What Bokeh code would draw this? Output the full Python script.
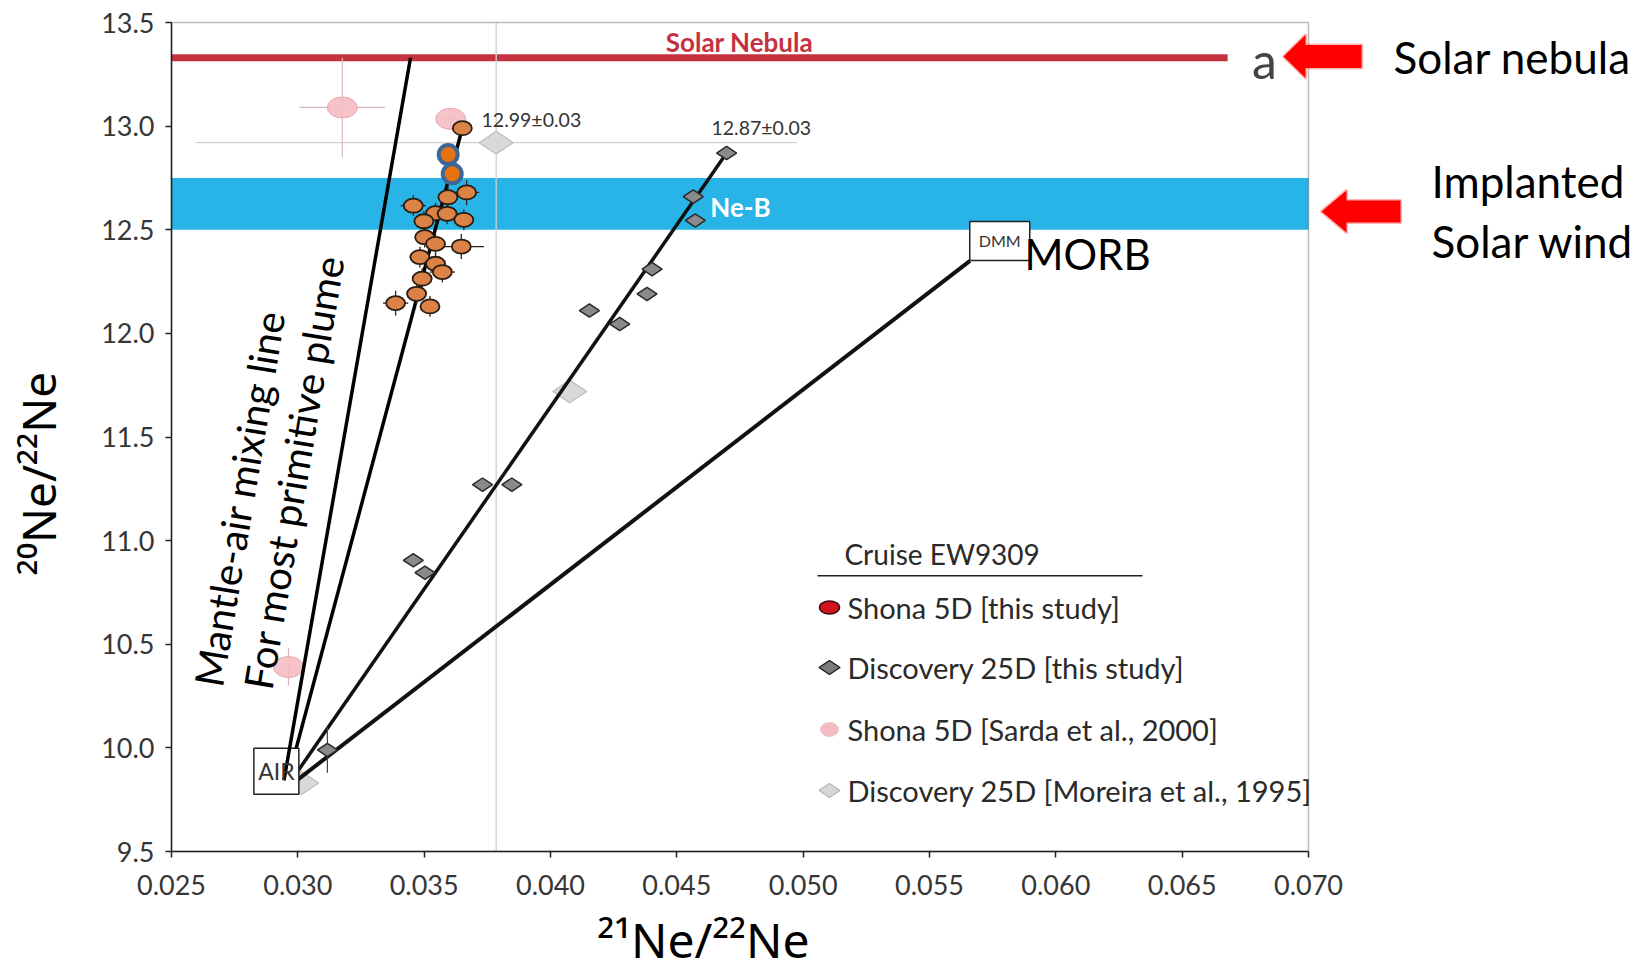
import math

from bokeh.plotting import figure
from bokeh.models import (Label, PolyAnnotation, BoxAnnotation, FixedTicker,
                          NumeralTickFormatter, Range1d)
from bokeh.embed import file_html
from bokeh.resources import INLINE

# ---------------------------------------------------------------- data
x_ticks = [0.025, 0.030, 0.035, 0.040, 0.045, 0.050, 0.055, 0.060, 0.065, 0.070]
y_ticks = [9.5, 10.0, 10.5, 11.0, 11.5, 12.0, 12.5, 13.0, 13.5]

# Shona 5D, this study (21Ne/22Ne, 20Ne/22Ne)
shona_x = [0.03651, 0.03594, 0.03668, 0.03457, 0.03545, 0.03591, 0.03499, 0.03657, 0.03502,
           0.03545, 0.03647, 0.03483, 0.03545, 0.03572, 0.03492, 0.03470, 0.03387, 0.03523]
shona_y = [12.99, 12.657, 12.68, 12.616, 12.58, 12.577, 12.541, 12.548, 12.464,
           12.432, 12.419, 12.368, 12.336, 12.296, 12.264, 12.191, 12.146, 12.130]
shona_xerr = [0.0002, 0.0004, 0.0005, 0.0005, 0.0004, 0.0004, 0.0004, 0.0004, 0.0004,
              0.0004, 0.0009, 0.0004, 0.0004, 0.0005, 0.0004, 0.0004, 0.0005, 0.0004]
shona_yerr = [0.02, 0.05, 0.06, 0.05, 0.05, 0.05, 0.05, 0.05, 0.05,
              0.05, 0.06, 0.05, 0.05, 0.05, 0.05, 0.05, 0.06, 0.05]

# two highlighted Shona samples
hl_x = [0.03595, 0.03611]
hl_y = [12.863, 12.770]

# Discovery 25D, this study
disc_x = [0.04697, 0.04565, 0.04573, 0.04402, 0.04382, 0.04154, 0.04274,
          0.03731, 0.03847, 0.03457, 0.03503, 0.03117]
disc_y = [12.87, 12.66, 12.545, 12.31, 12.19, 12.11, 12.045,
          11.27, 11.27, 10.905, 10.845, 9.99]
disc_xerr = [0, 0, 0, 0, 0, 0, 0, 0, 0, 0, 0, 0.0003]
disc_yerr = [0, 0, 0, 0, 0, 0, 0, 0, 0, 0, 0, 0.11]

# Shona 5D [Sarda et al., 2000]
sarda_x = [0.03176, 0.03605, 0.02963]
sarda_y = [13.09, 13.035, 10.39]
sarda_xerr = [0.0017, 0.0004, 0.0003]
sarda_yerr = [0.24, 0.05, 0.09]

# Discovery 25D [Moreira et al., 1995]
moreira_x = [0.03785, 0.04076, 0.03015]
moreira_y = [12.92, 11.72, 9.83]
moreira_xerr = [0.0119, 0.0, 0.0]
moreira_yerr = [3.6, 0.0, 0.0]

# reference compositions
air = (0.0295, 9.80)
air_box = (0.02915, 9.887)
dmm_box = (0.05778, 12.446)
morb_end = (0.0566, 12.35)
solar_nebula = 13.33
nebula_x = [0.025, 0.0668]
neb_band = (12.5, 12.75)
mantle_air_x = [0.02945, 0.03446]
mantle_air_y = [9.843, solar_nebula]

# ---------------------------------------------------------------- canvas geometry
W, H = 1643, 972
PLOT_L, PLOT_R, PLOT_T, PLOT_B = 171, 1308, 22, 851
X0, X1 = x_ticks[0], x_ticks[-1]
Y0, Y1 = y_ticks[0], y_ticks[-1]
kx = (PLOT_R - PLOT_L) / (X1 - X0)
ky = (PLOT_B - PLOT_T) / (Y1 - Y0)

# the frame fills the whole canvas so that the side notes can be drawn;
# the axes sit at fixed locations around the data box
FONT = "Lato"
p = figure(width=W, height=H,
           x_range=Range1d(X0 - PLOT_L / kx, X1 + (W - PLOT_R) / kx),
           y_range=Range1d(Y0 - (H - PLOT_B) / ky, Y1 + PLOT_T / ky),
           output_backend="svg", toolbar_location=None,
           min_border_left=0, min_border_right=0, min_border_top=0, min_border_bottom=0)
p.extra_x_ranges = {"px": Range1d(0, W)}
p.extra_y_ranges = {"px": Range1d(H, 0)}
p.grid.visible = False
p.background_fill_color = "white"
p.border_fill_color = "white"
p.outline_line_color = None

p.xaxis.fixed_location = Y0
p.yaxis.fixed_location = X0
p.xaxis.bounds = (X0, X1)
p.yaxis.bounds = (Y0, Y1)
p.xaxis.ticker = FixedTicker(ticks=x_ticks)
p.xaxis.formatter = NumeralTickFormatter(format="0.000")
p.yaxis.ticker = FixedTicker(ticks=y_ticks)
p.yaxis.formatter = NumeralTickFormatter(format="0.0")
for ax in (p.xaxis, p.yaxis):
    ax.axis_line_color = "#222222"
    ax.axis_line_width = 1.5
    ax.major_tick_line_color = "#222222"
    ax.major_tick_line_width = 1.5
    ax.major_tick_out = 6
    ax.major_tick_in = 0
    ax.minor_tick_line_color = None
    ax.major_label_text_font = FONT
    ax.major_label_text_font_size = "27px"
    ax.major_label_text_color = "#363636"
p.xaxis.major_label_standoff = 17
p.yaxis.major_label_standoff = 11

# Ne-B band (implanted solar wind)
p.add_layout(BoxAnnotation(left=X0, right=X1, bottom=neb_band[0], top=neb_band[1],
                           fill_color="#29b4e8", fill_alpha=1.0, line_color=None,
                           level="underlay"))

# Solar nebula line
p.segment(x0=[nebula_x[0]], y0=[solar_nebula], x1=[nebula_x[1]], y1=[solar_nebula],
          line_color="#c4323f", line_width=7)


def error_bars(xs, ys, xe, ye, color, width):
    hx0 = [max(x - e, X0) for x, e in zip(xs, xe)]
    hx1 = [min(x + e, X1) for x, e in zip(xs, xe)]
    vy0 = [max(y - e, Y0) for y, e in zip(ys, ye)]
    vy1 = [min(y + e, Y1) for y, e in zip(ys, ye)]
    p.segment(x0=hx0, y0=ys, x1=hx1, y1=ys, line_color=color, line_width=width)
    p.segment(x0=xs, y0=vy0, x1=xs, y1=vy1, line_color=color, line_width=width)


# literature data (pale)
error_bars(moreira_x, moreira_y, moreira_xerr, moreira_yerr, "#cfcfcf", 1.3)
error_bars(sarda_x, sarda_y, sarda_xerr, sarda_yerr, "#d9b8bc", 1.2)
p.ellipse(x=sarda_x, y=sarda_y, width=30, height=21, width_units="screen", height_units="screen",
          fill_color="#f4bcc3", fill_alpha=0.9, line_color="#eaa7b0", line_width=1)
p.scatter(x=moreira_x, y=moreira_y, marker="diamond", angle=math.pi / 2, size=34,
          fill_color="#d9d9d9", line_color="#bdbdbd", line_width=1.2)

# mixing lines from air
p.segment(x0=[air[0]], y0=[air[1]], x1=[shona_x[0]], y1=[shona_y[0]],
          line_color="black", line_width=3.5)
p.segment(x0=[air[0]], y0=[air[1]], x1=[disc_x[0]], y1=[disc_y[0]],
          line_color="#111111", line_width=3.5)
p.segment(x0=[air[0]], y0=[air[1]], x1=[morb_end[0]], y1=[morb_end[1]],
          line_color="#111111", line_width=4)

# this study
error_bars(disc_x, disc_y, disc_xerr, disc_yerr, "#444444", 1.2)
p.scatter(x=disc_x, y=disc_y, marker="diamond", angle=math.pi / 2, size=20,
          fill_color="#8a8a8a", line_color="#2a2a2a", line_width=1.5)
error_bars(shona_x, shona_y, shona_xerr, shona_yerr, "#33241a", 1.3)
p.ellipse(x=shona_x, y=shona_y, width=19, height=14, width_units="screen", height_units="screen",
          fill_color="#db8247", line_color="#2a1d14", line_width=1.8)
p.scatter(x=hl_x, y=hl_y, marker="circle", size=19,
          fill_color="#e8720f", line_color="#3e6696", line_width=4)

# end-member boxes
p.rect(x=[air_box[0]], y=[air_box[1]], width=45, height=46, width_units="screen",
       height_units="screen", fill_color="white", line_color="#222222", line_width=1.5)
p.rect(x=[dmm_box[0]], y=[dmm_box[1]], width=60, height=39, width_units="screen",
       height_units="screen", fill_color="white", line_color="#222222", line_width=1.5)

# mantle-air mixing line for the most primitive plume
p.line(x=mantle_air_x, y=mantle_air_y, line_color="black", line_width=3.5)

# box around the data area
p.add_layout(BoxAnnotation(left=X0, right=X1, bottom=Y0, top=Y1, fill_alpha=0,
                           line_color="#222222", line_width=1.5))


# ---------------------------------------------------------------- texts
def label(x, y, text, size, color="black", align="left", angle=0.0,
          style="normal", font=FONT, units="data"):
    if units == "screen":          # canvas pixels measured from the top-left corner
        y = H - y
    p.add_layout(Label(x=x, y=y, x_units=units, y_units=units, text=text, angle=angle,
                       text_font=font, text_font_size=size, text_color=color,
                       text_align=align, text_baseline="middle", text_font_style=style))


label(0.04748, 13.408, "Solar Nebula", "26px", color="#c4323f", align="center", style="bold")
label(0.04752, 12.612, "Ne-B", "26px", color="white", align="center", style="bold")
label(0.03727, 13.032, "12.99±0.03", "19.5px", color="#333333")
label(0.04637, 12.992, "12.87±0.03", "19.5px", color="#333333")
label(air_box[0], air_box[1], "AIR", "23px", color="#333333", align="center")
label(dmm_box[0], dmm_box[1], "DMM", "16px", color="#333333", align="center")
label(1024, 253, "MORB", "42px", units="screen")
label(1264, 59, "a", "50px", color="#444444", align="center", units="screen")
tilt = math.radians(80.5)
label(0.02769, 11.203, "Mantle-air mixing line", "40px", align="center", angle=tilt)
label(0.02984, 11.330, "For most primitive plume", "40px", align="center", angle=tilt)

# axis titles
label(703, 939, "²¹Ne/²²Ne", "48px", align="center", font="Noto Sans", units="screen")
label(37, 473, "²⁰Ne/²²Ne", "46px", align="center", angle=math.pi / 2,
      font="Noto Sans", units="screen")

# side notes
label(1393, 56, "Solar nebula", "44px", units="screen")
label(1431, 180, "Implanted", "44px", units="screen")
label(1431, 240, "Solar wind", "44px", units="screen")

# red block arrows pointing at the reference levels
for tip_x, tip_y, neck_x, tail_x, head_h, shaft_h in ((1283, 56, 1305, 1361, 43, 23),
                                                      (1321, 211, 1346, 1400, 42, 22)):
    xs = [tip_x, neck_x, neck_x, tail_x, tail_x, neck_x, neck_x]
    ys = [tip_y, tip_y - head_h / 2, tip_y - shaft_h / 2, tip_y - shaft_h / 2,
          tip_y + shaft_h / 2, tip_y + shaft_h / 2, tip_y + head_h / 2]
    p.add_layout(PolyAnnotation(xs=xs, ys=[H - v for v in ys],
                                xs_units="screen", ys_units="screen",
                                fill_color="#ff0000", fill_alpha=1, line_color="#ff0000",
                                line_width=3, line_join="round"))

# ---------------------------------------------------------------- legend (canvas pixels)
label(844, 553, "Cruise EW9309", "28px", color="#2a2a2a", units="screen")
p.add_layout(BoxAnnotation(left=817, right=1142, bottom=H - 576, top=H - 574.5,
                           left_units="screen", right_units="screen",
                           bottom_units="screen", top_units="screen",
                           fill_color="#222222", fill_alpha=1, line_color=None))
legend_labels = ["Shona 5D [this study]", "Discovery 25D [this study]",
                 "Shona 5D [Sarda et al., 2000]", "Discovery 25D [Moreira et al., 1995]"]
row_y = [607, 667, 729, 790]
key_x = 829
p.ellipse(x=[key_x], y=[row_y[0]], width=20, height=13, x_range_name="px", y_range_name="px",
          fill_color="#d2121c", line_color="#3b0c0c", line_width=1.5)
p.scatter(x=[key_x], y=[row_y[1]], marker="diamond", angle=math.pi / 2, size=21,
          x_range_name="px", y_range_name="px",
          fill_color="#7a7a7a", line_color="#202020", line_width=1.5)
p.ellipse(x=[key_x], y=[row_y[2]], width=18, height=14, x_range_name="px", y_range_name="px",
          fill_color="#f3bcc3", line_color="#f0c8cc", line_width=1)
p.scatter(x=[key_x], y=[row_y[3]], marker="diamond", angle=math.pi / 2, size=21,
          x_range_name="px", y_range_name="px",
          fill_color="#d6d6d6", line_color="#b5b5b5", line_width=1.2)
for text, ry in zip(legend_labels, row_y):
    label(847, ry, text, "29px", color="#2a2a2a", units="screen")

open("out.html", "w").write(file_html(p, INLINE))
